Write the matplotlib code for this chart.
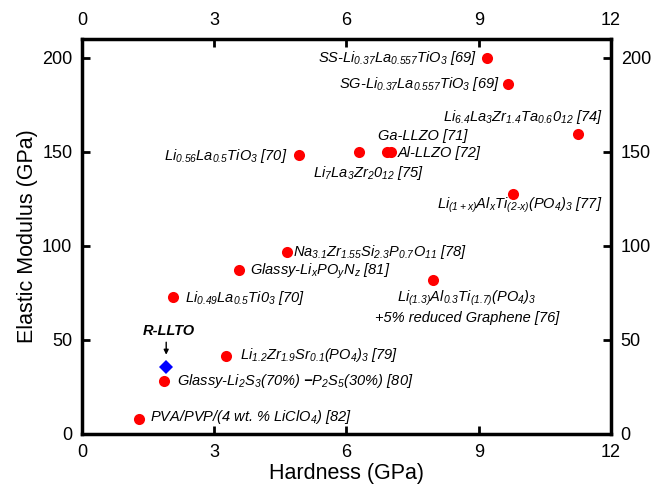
import matplotlib
matplotlib.use("Agg")
import matplotlib.pyplot as plt

plt.rcParams['font.family'] = ['Liberation Sans', 'DejaVu Sans']
plt.rcParams['mathtext.fontset'] = 'custom'
plt.rcParams['mathtext.rm'] = 'Liberation Sans:italic'
plt.rcParams['mathtext.it'] = 'Liberation Sans:italic'
plt.rcParams['mathtext.bf'] = 'Liberation Sans:bold:italic'

# data: hardness (GPa), elastic modulus (GPa)
labels = [
    r'SS-Li$_{0.37}$La$_{0.557}$TiO$_3$ [69]',
    r'SG-Li$_{0.37}$La$_{0.557}$TiO$_3$ [69]',
    r'Li$_{6.4}$La$_3$Zr$_{1.4}$Ta$_{0.6}$0$_{12}$ [74]',
    r'Ga-LLZO [71]',
    r'Al-LLZO [72]',
    r'Li$_7$La$_3$Zr$_2$0$_{12}$ [75]',
    r'Li$_{0.56}$La$_{0.5}$TiO$_3$ [70]',
    r'Li$_{(1+x)}$Al$_x$Ti$_{(2\text{-}x)}$(PO$_4$)$_3$ [77]',
    r'Na$_{3.1}$Zr$_{1.55}$Si$_{2.3}$P$_{0.7}$O$_{11}$ [78]',
    r'Glassy-Li$_x$PO$_y$N$_z$ [81]',
    r'Li$_{0.49}$La$_{0.5}$Ti0$_3$ [70]',
    'Li$_{(1.3)}$Al$_{0.3}$Ti$_{(1.7)}$(PO$_4$)$_3$\n+5% reduced Graphene [76]',
    r'Li$_{1.2}$Zr$_{1.9}$Sr$_{0.1}$(PO$_4$)$_3$ [79]',
    r'Glassy-Li$_2$S$_3$(70%) $\mathbf{-}$P$_2$S$_5$(30%) [80]',
    r'PVA/PVP/(4 wt. % LiClO$_4$) [82]',
]
hardness = [9.19, 9.66, 11.25, 6.92, 7.01, 6.28, 4.92, 9.78, 4.65, 3.56, 2.06, 7.96, 3.27, 1.86, 1.29]
modulus = [200, 186, 159.5, 150, 150, 150, 148.5, 127.5, 97, 87, 73, 82, 41.5, 28, 8]

rllto_label = 'R-LLTO'
rllto_hardness = [1.91]
rllto_modulus = [35.5]

# label placement (offset pixels, alignment)
offsets = [(-10, 0, 'right'), (-8, 0, 'right'), (25, 17, 'right'), (-9, 16, 'left'),
           (7, -1, 'left'), (-46, -21, 'left'), (-11, -1, 'right'), (-76, -11, 'left'),
           (6, 0, 'left'), (11, -1, 'left'), (12, -1, 'left'), (34, -27, 'center'),
           (14, 1, 'left'), (13, 0, 'left'), (11, 2, 'left')]

fig = plt.figure(figsize=(6.51, 4.87), dpi=100)
ax = fig.add_axes([82 / 651, 53 / 487, 529 / 651, 395 / 487])

ax.plot(hardness, modulus, 'o', color='#ff0000', markersize=8, markeredgewidth=0, zorder=3)
ax.plot(rllto_hardness, rllto_modulus, 'D', color='#0000ff', markersize=7.5, markeredgewidth=0, zorder=3)

for lab, x, y, (dx, dy, ha) in zip(labels, hardness, modulus, offsets):
    ax.annotate(lab, (x, y), xytext=(dx, dy), textcoords='offset pixels',
                ha=ha, va='center', fontsize=10.5, style='italic', multialignment='center')

ax.annotate(rllto_label, (rllto_hardness[0], rllto_modulus[0]), xytext=(3, 36),
            textcoords='offset pixels', ha='center', va='center', fontsize=10.5,
            style='italic', weight='bold')
ax.annotate('', xy=(rllto_hardness[0], rllto_modulus[0]), xytext=(0, 25),
            textcoords='offset pixels',
            arrowprops=dict(arrowstyle='-|>', color='black', lw=1, shrinkA=0, shrinkB=9,
                            mutation_scale=7))

ax.set_xlim(0, 12)
ax.set_ylim(0, 210)
ax.set_xticks([0, 3, 6, 9, 12])
ax.set_yticks([0, 50, 100, 150, 200])
ax.tick_params(direction='in', length=6, width=2, labelsize=13, pad=7,
               top=True, right=True, labeltop=True, labelright=True)
for s in ax.spines.values():
    s.set_linewidth(2.5)
ax.set_xlabel('Hardness (GPa)', fontsize=15.5, labelpad=2)
ax.set_ylabel('Elastic Modulus (GPa)', fontsize=15.5, labelpad=3)

fig.savefig('out.png', dpi=100)
